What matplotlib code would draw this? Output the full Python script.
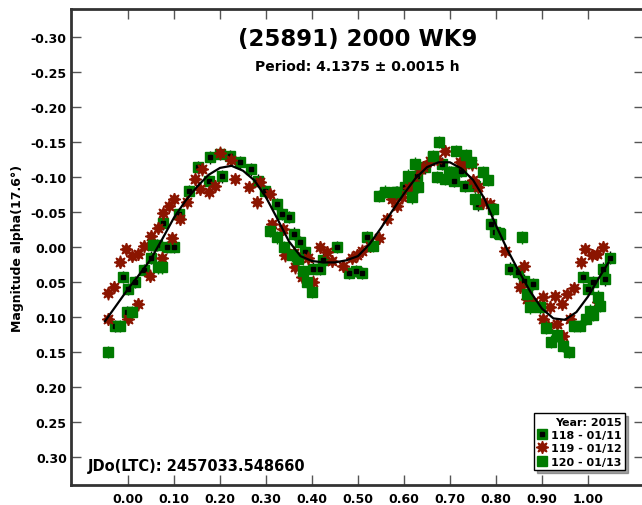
import matplotlib.pyplot as plt
from matplotlib.lines import Line2D
from matplotlib.legend_handler import HandlerTuple

plt.rcParams['axes.unicode_minus'] = False
plt.rcParams['font.family'] = 'DejaVu Sans'
plt.rcParams['font.weight'] = 'bold'

# session 118 - 01/11 (green square, black centre)
phase118 = [-0.028, -0.01, -0.003, 0.0, 0.015, 0.035, 0.05, 0.062, 0.077, 0.084, 0.1, 0.11,
            0.133, 0.153, 0.175, 0.178, 0.2, 0.204, 0.222, 0.243, 0.267, 0.283, 0.298, 0.323,
            0.334, 0.35, 0.36, 0.374, 0.385, 0.403, 0.417, 0.425, 0.454, 0.481, 0.496, 0.508,
            0.52, 0.584, 0.602, 0.628, 0.646, 0.664, 0.682, 0.697, 0.708, 0.725, 0.733, 0.754,
            0.762, 0.79, 0.798, 0.807, 0.83, 0.849, 0.86, 0.881, 0.99, 1.0, 1.012, 1.033,
            1.037, 1.048]
mag118 = [0.113, 0.043, 0.093, 0.06, 0.05, 0.033, 0.015, -0.003, -0.034, 0.0, 0.0, -0.047,
          -0.08, -0.114, -0.094, -0.128, -0.133, -0.101, -0.13, -0.121, -0.111, -0.095, -0.08, -0.061,
          -0.047, -0.043, -0.019, -0.007, 0.007, 0.031, 0.031, 0.018, 0.0, 0.037, 0.034, 0.037,
          -0.014, -0.078, -0.086, -0.102, -0.114, -0.128, -0.119, -0.107, -0.095, -0.109, -0.087, -0.087,
          -0.061, -0.033, -0.021, -0.02, 0.031, 0.036, 0.048, 0.053, 0.043, 0.06, 0.05, 0.031,
          0.046, 0.015]

# session 119 - 01/12 (dark red burst)
phase119 = [-0.044, -0.043, -0.03, -0.017, -0.005, 0.0, 0.008, 0.021, 0.022, 0.035, 0.048, 0.05,
            0.065, 0.073, 0.077, 0.089, 0.095, 0.1, 0.113, 0.128, 0.146, 0.157, 0.16, 0.175,
            0.189, 0.2, 0.225, 0.233, 0.262, 0.28, 0.287, 0.309, 0.312, 0.338, 0.341, 0.36,
            0.363, 0.378, 0.392, 0.403, 0.417, 0.432, 0.443, 0.468, 0.486, 0.497, 0.508, 0.526,
            0.546, 0.563, 0.574, 0.584, 0.596, 0.61, 0.62, 0.635, 0.642, 0.657, 0.671, 0.689,
            0.722, 0.733, 0.747, 0.75, 0.762, 0.772, 0.787, 0.82, 0.852, 0.86, 0.867, 0.881,
            0.903, 0.903, 0.914, 0.917, 0.928, 0.932, 0.943, 0.946, 0.954, 0.961, 0.97, 0.986,
            0.993, 1.008, 1.019, 1.022, 1.033]
mag119 = [0.066, 0.103, 0.057, 0.021, 0.003, 0.103, 0.013, 0.01, 0.082, -0.001, 0.041, -0.016,
          -0.027, 0.016, -0.048, -0.059, -0.013, -0.068, -0.04, -0.064, -0.097, -0.083, -0.111, -0.078,
          -0.087, -0.135, -0.125, -0.097, -0.086, -0.064, -0.093, -0.076, -0.033, -0.026, 0.012, 0.008,
          0.029, 0.043, 0.015, 0.05, 0.0, 0.007, 0.02, 0.027, 0.015, 0.012, 0.005, -0.002,
          -0.013, -0.04, -0.069, -0.059, -0.071, -0.085, -0.095, -0.111, -0.114, -0.123, -0.126, -0.137,
          -0.121, -0.118, -0.118, -0.096, -0.086, -0.064, -0.061, 0.005, 0.057, 0.027, 0.074, 0.079,
          0.071, 0.103, 0.113, 0.086, 0.07, 0.11, 0.081, 0.127, 0.067, 0.103, 0.059, 0.022,
          0.003, 0.012, 0.01, 0.079, 0.0]

# session 120 - 01/13 (green square)
phase120 = [-0.043, -0.017, 0.008, 0.055, 0.066, 0.073, 0.309, 0.323, 0.34, 0.356, 0.37, 0.381,
            0.39, 0.399, 0.532, 0.546, 0.559, 0.583, 0.609, 0.617, 0.624, 0.631, 0.664, 0.671,
            0.677, 0.689, 0.703, 0.714, 0.735, 0.746, 0.754, 0.771, 0.783, 0.794, 0.809, 0.856,
            0.867, 0.874, 0.896, 0.909, 0.919, 0.932, 0.945, 0.959, 0.97, 0.983, 0.996, 1.004,
            1.012, 1.022, 1.026]
mag120 = [0.15, 0.113, 0.093, -0.003, 0.029, 0.029, -0.023, -0.014, 0.0, 0.012, 0.017, 0.034,
          0.05, 0.064, -0.002, -0.073, -0.079, -0.078, -0.102, -0.071, -0.119, -0.086, -0.13, -0.1,
          -0.15, -0.097, -0.107, -0.137, -0.131, -0.121, -0.069, -0.107, -0.096, -0.054, -0.019, -0.014,
          0.067, 0.086, 0.086, 0.115, 0.135, 0.126, 0.141, 0.15, 0.113, 0.113, 0.103, 0.091,
          0.097, 0.071, 0.084]

# fitted curve
fit_phase = [-0.05, -0.025, 0.0, 0.025, 0.05, 0.075, 0.10, 0.125, 0.15, 0.175, 0.20, 0.225,
             0.25, 0.275, 0.30, 0.325, 0.35, 0.375, 0.40, 0.425, 0.45, 0.475, 0.50, 0.525,
             0.55, 0.575, 0.60, 0.625, 0.65, 0.675, 0.70, 0.725, 0.75, 0.775, 0.80, 0.825,
             0.85, 0.875, 0.90, 0.925, 0.95, 0.975, 1.00, 1.025, 1.045]
fit_mag = [0.106, 0.083, 0.06, 0.039, 0.017, -0.012, -0.042, -0.066, -0.086, -0.103, -0.113, -0.116,
           -0.109, -0.095, -0.071, -0.04, -0.008, 0.013, 0.02, 0.022, 0.022, 0.019, 0.013, -0.004,
           -0.027, -0.052, -0.076, -0.098, -0.114, -0.121, -0.121, -0.112, -0.096, -0.069, -0.031, 0.004,
           0.035, 0.064, 0.088, 0.102, 0.104, 0.093, 0.071, 0.043, 0.022]

green = '#007a00'
red = '#8b1500'

fig = plt.figure(figsize=(6.42, 5.06), dpi=100)
ax = fig.add_axes([71 / 642, 20 / 506, 573 / 642, 476 / 506])

ax.errorbar(phase118, mag118, yerr=0.009, fmt='s', color=green, ecolor='black', ms=7,
            elinewidth=1, capsize=0, zorder=3)
ax.plot(phase118, mag118, 's', color='black', ms=3, zorder=3.1)
ax.errorbar(phase119, mag119, yerr=0.009, fmt='none', ecolor=red, elinewidth=1, capsize=0, zorder=3.2)
ax.plot(phase119, mag119, marker=(8, 1, 0), ls='none', color=red, ms=9, zorder=3.3)
ax.errorbar(phase120, mag120, yerr=0.009, fmt='s', color=green, ecolor=green, ms=7,
            elinewidth=1, capsize=0, zorder=3.4)
ax.plot(fit_phase, fit_mag, color='black', lw=1.6, zorder=4)

ax.set_xlim(-0.124, 1.122)
ax.set_ylim(0.34, -0.34)
ax.set_xticks([i / 10 for i in range(11)])
ax.set_yticks([-0.30, -0.25, -0.20, -0.15, -0.10, -0.05, 0.0, 0.05, 0.10, 0.15, 0.20, 0.25, 0.30])
ax.xaxis.set_major_formatter('{x:.2f}')
ax.yaxis.set_major_formatter('{x:.2f}')
ax.tick_params(direction='in', length=7, width=1, color='#555555', labelsize=9,
               top=True, right=True)
ax.tick_params(axis='x', pad=5)
ax.tick_params(axis='y', pad=3)
for s in ax.spines.values():
    s.set_linewidth(2)
    s.set_color('#333333')

ax.set_ylabel('Magnitude alpha(17.6°)', fontsize=9, fontweight='bold', labelpad=5)

ax.text(0.5, 0.939, '(25891) 2000 WK9', transform=ax.transAxes, ha='center', va='center',
        fontsize=16.5, fontweight='bold')
ax.text(0.5, 0.88, 'Period: 4.1375 ± 0.0015 h', transform=ax.transAxes, ha='center', va='center',
        fontsize=10, fontweight='bold')
ax.text(17 / 573, 0.042, 'JDo(LTC): 2457033.548660', transform=ax.transAxes, ha='left',
        va='center', fontsize=10.5, fontweight='bold')

h118 = (Line2D([], [], marker='s', ls='none', color=green, ms=7),
        Line2D([], [], marker='s', ls='none', color='black', ms=3))
h119 = Line2D([], [], marker=(8, 1, 0), ls='none', color=red, ms=9)
h120 = Line2D([], [], marker='s', ls='none', color=green, ms=7)
leg = ax.legend([h118, h119, h120], ['118 - 01/11', '119 - 01/12', '120 - 01/13'],
                handler_map={tuple: HandlerTuple(ndivide=1)},
                title='Year: 2015', alignment='right',
                prop={'weight': 'bold', 'size': 8},
                title_fontproperties={'weight': 'bold', 'size': 8},
                loc='lower right', bbox_to_anchor=(625 / 642, 35 / 506),
                bbox_transform=fig.transFigure, borderaxespad=0,
                fancybox=False, shadow=True, framealpha=1, edgecolor='black',
                handlelength=0.8, handletextpad=0.4, labelspacing=0.3, borderpad=0.3)
leg.get_frame().set_linewidth(1)

fig.savefig('out.png', dpi=100)
